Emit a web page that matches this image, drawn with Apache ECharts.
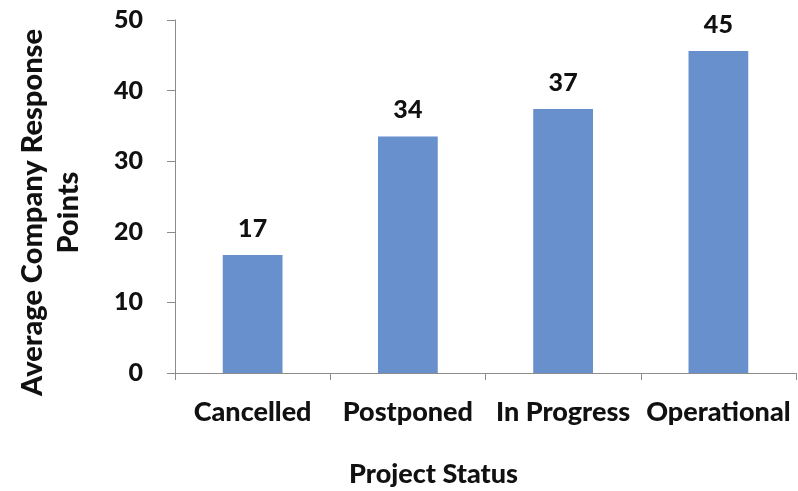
<!DOCTYPE html>
<html>
<head>
<meta charset="utf-8">
<script src="https://cdn.jsdelivr.net/npm/echarts@6/dist/echarts.min.js"></script>
<style>
  html, body { margin: 0; padding: 0; background: #fff; }
  #main { width: 798px; height: 491px; }
</style>
</head>
<body>
<div id="main"></div>
<script>
// categories and values
var statusNames = ['Cancelled', 'Postponed', 'In Progress', 'Operational'];
var avgPoints = [16.7, 33.5, 37.4, 45.6];
var pointLabels = ['17', '34', '37', '45'];
var yTicks = [0, 10, 20, 30, 40, 50];

var chart = echarts.init(document.getElementById('main'));
var font = 'Lato, "Open Sans", sans-serif';
var weight = 900;

var option = {
    backgroundColor: '#ffffff',
    animation: false,
    grid: { left: 175, right: 2, top: 20, bottom: 118, outerBoundsMode: 'none', containLabel: false },
    xAxis: {
        type: 'category',
        data: statusNames,
        name: 'Project Status',
        nameLocation: 'middle',
        nameGap: 88,
        nameTextStyle: {
            color: '#111', fontFamily: font, fontWeight: weight, fontSize: 27,
            padding: [0, 104, 0, 0]
        },
        axisLine: { lineStyle: { color: '#8c8c8c', width: 1 } },
        axisTick: { show: true, length: 7, lineStyle: { color: '#8c8c8c' } },
        axisLabel: {
            color: '#111', fontFamily: font, fontWeight: weight, fontSize: 27,
            margin: 26, interval: 0
        }
    },
    yAxis: {
        type: 'value',
        min: yTicks[0],
        max: yTicks[yTicks.length - 1],
        interval: 10,
        name: 'Average Company Response\nPoints',
        nameLocation: 'middle',
        nameRotate: 90,
        nameGap: 88,
        nameTextStyle: {
            color: '#111', fontFamily: font, fontWeight: weight, fontSize: 29,
            lineHeight: 36, align: 'center',
            padding: [0, 32, 0, 0]
        },
        axisLine: { show: true, lineStyle: { color: '#8c8c8c', width: 1 } },
        axisTick: { show: true, length: 8, lineStyle: { color: '#8c8c8c' } },
        splitLine: { show: false },
        axisLabel: {
            color: '#111', fontFamily: font, fontWeight: weight, fontSize: 25,
            margin: 32
        }
    },
    series: [{
        type: 'bar',
        data: avgPoints,
        barWidth: '38.5%',
        itemStyle: { color: '#6890cc' },
        label: {
            show: true,
            position: 'top',
            distance: 14,
            color: '#111',
            fontFamily: font,
            fontWeight: weight,
            fontSize: 25,
            formatter: function (p) { return pointLabels[p.dataIndex]; }
        }
    }]
};

chart.setOption(option);
window.addEventListener('resize', function () {
    chart.resize();
});
</script>
</body>
</html>
